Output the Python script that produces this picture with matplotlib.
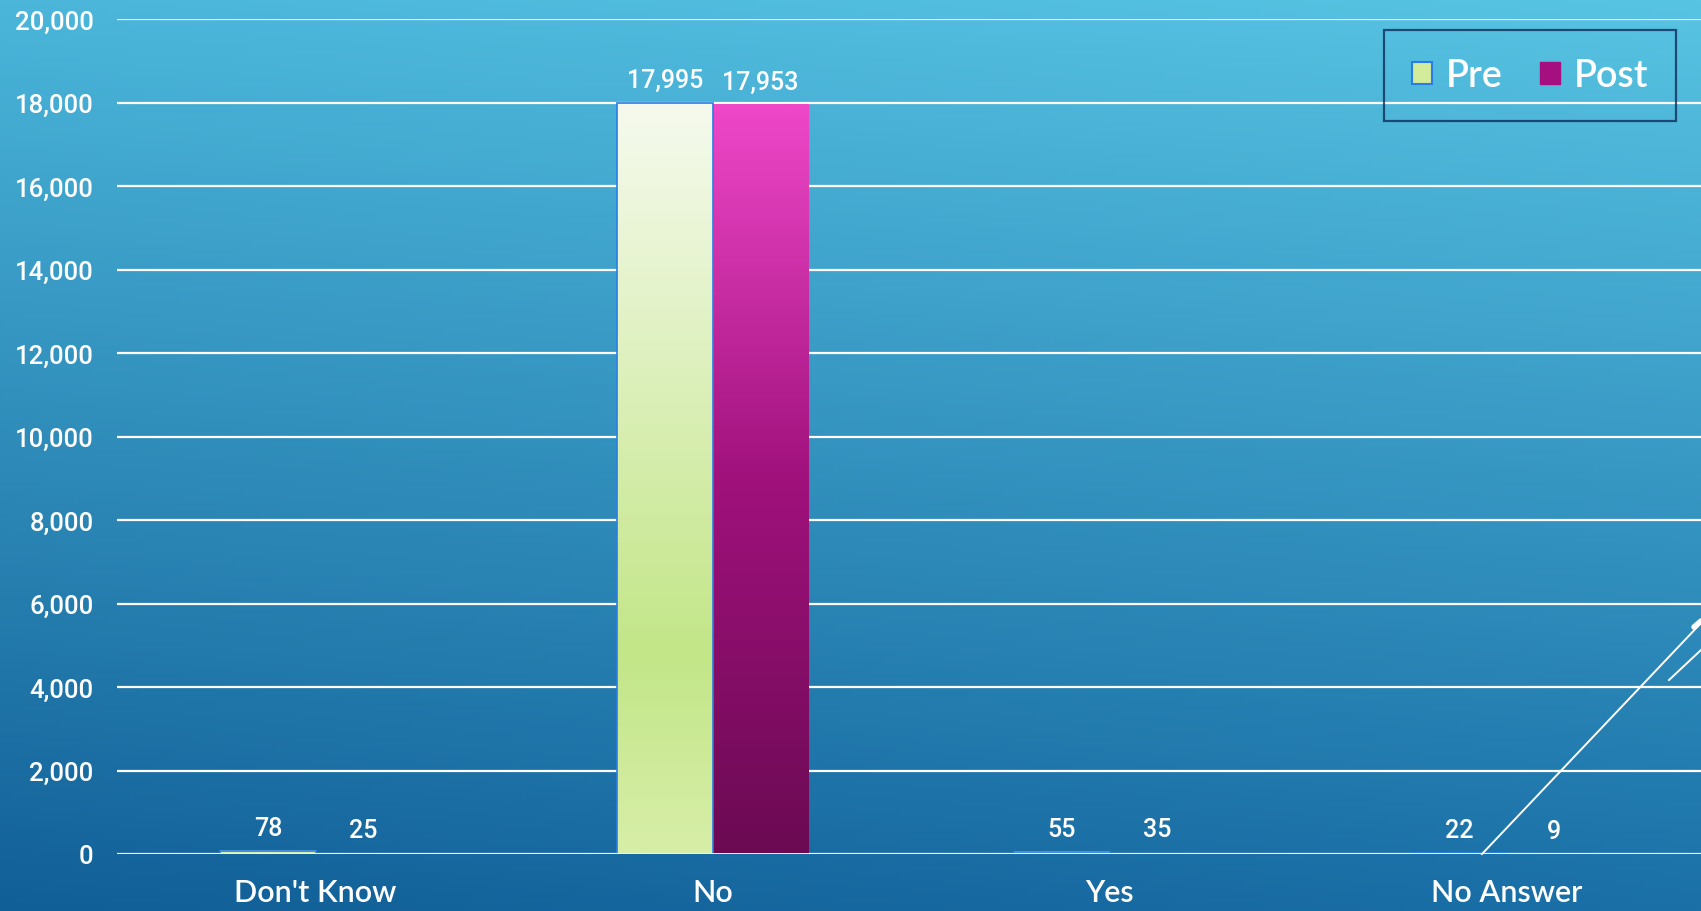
import numpy as np
import matplotlib.pyplot as plt
from matplotlib.colors import LinearSegmentedColormap, to_rgb
from matplotlib.patches import Patch
from matplotlib.lines import Line2D

# data
categories = ["Don't Know", "No", "Yes", "No Answer"]
pre_values = [78, 17995, 55, 22]
post_values = [25, 17953, 35, 9]
series_names = ["Pre", "Post"]
y_ticks = [0, 2000, 4000, 6000, 8000, 10000, 12000, 14000, 16000, 18000, 20000]

W, H = 1701, 912
fig = plt.figure(figsize=(W / 100, H / 100), dpi=100)

# background gradient (dark blue bottom-left -> light cyan top-right)
bg = fig.add_axes([0, 0, 1, 1], zorder=0)
bg.axis("off")
tl = np.array(to_rgb("#4bb6da"))
tr = np.array(to_rgb("#58c4e3"))
bl = np.array(to_rgb("#115f97"))
br = np.array(to_rgb("#1a70a7"))
yy, xx = np.mgrid[0:1:200j, 0:1:300j]
img = (tl[None, None] * ((1 - xx) * (1 - yy))[..., None] + tr[None, None] * (xx * (1 - yy))[..., None]
       + bl[None, None] * ((1 - xx) * yy)[..., None] + br[None, None] * (xx * yy)[..., None])
bg.imshow(img, aspect="auto", extent=[0, 1, 0, 1], origin="upper")
bg.set_xlim(0, 1)
bg.set_ylim(0, 1)

ax = fig.add_axes([117 / W, 57 / H, 1588 / W, 835 / H], zorder=1)
ax.patch.set_alpha(0)
for s in ax.spines.values():
    s.set_visible(False)

ax.set_xlim(-0.5, 3.5)
ax.set_ylim(0, 20000)
ax.set_yticks(y_ticks)
ax.set_yticklabels([f"{v:,}" for v in y_ticks], family="Roboto", fontweight="medium",
                   fontsize=18.5, color="white")
ax.tick_params(axis="y", length=0, pad=17)
ax.tick_params(axis="x", length=0, pad=17)
ax.grid(axis="y", color="white", linewidth=1.6, zorder=0)
ax.set_axisbelow(True)

x = np.arange(len(categories))
ax.set_xticks(x)
ax.set_xticklabels(categories, family="Lato", fontweight="semibold", fontsize=22, color="white")

pre_cmap = LinearSegmentedColormap.from_list("pre", [(0, "#d7eea8"), (0.27, "#c3e688"), (1, "#f6faee")])
post_cmap = LinearSegmentedColormap.from_list("post", ["#6b0a53", "#a0117c", "#ef48c9"])
grad = np.linspace(0, 1, 256).reshape(-1, 1)
bw = 0.24
ymax = max(max(pre_values), max(post_values))

for vals, off, cmap, edge in [(pre_values, -0.5, pre_cmap, "#2a7de8"), (post_values, 0.5, post_cmap, None)]:
    for xi, v in zip(x, vals):
        x0 = xi + off * bw - bw / 2
        x1 = x0 + bw
        g = grad * (v / ymax)
        ax.imshow(g, cmap=cmap, vmin=0, vmax=1, aspect="auto", origin="lower",
                  extent=[x0, x1, 0, v], zorder=2, interpolation="bilinear",
                  alpha=1.0 if v > 100 or edge else 0.0)
        if edge:
            ax.add_patch(plt.Rectangle((x0, 0), bw, v, fill=False, edgecolor=edge, linewidth=1.2, zorder=3))
        ax.annotate(f"{v:,}", (xi + off * bw, v), xytext=(0, 8), textcoords="offset points",
                    ha="center", va="bottom", family="Roboto", fontweight="medium",
                    fontsize=18, color="white", zorder=4)

ax.set_xlim(-0.5, 3.5)
ax.set_ylim(0, 20000)
ax.axhline(0, color="white", linewidth=2, zorder=3)

handles = [Patch(facecolor="#d3ec9c", edgecolor="#2a7de8", linewidth=1.5),
           Patch(facecolor="#a50f7f", edgecolor="#a50f7f")]
leg = fig.legend(handles, series_names, loc="upper right", bbox_to_anchor=(1676 / W, 1 - 31 / H),
                 ncol=2, frameon=True, fancybox=False,
                 prop={"family": "Lato", "weight": "semibold", "size": 27},
                 labelcolor="white", handlelength=0.55, handleheight=0.55, handletextpad=0.35,
                 columnspacing=1.0, borderpad=0.75, borderaxespad=0)
leg.get_frame().set_facecolor("none")
leg.get_frame().set_edgecolor("#0f2d58")
leg.get_frame().set_linewidth(1.6)
leg.set_zorder(5)

# stray connector lines at lower right
fig.add_artist(Line2D([1482 / W, 1701 / W], [1 - 855 / H, 1 - 624 / H], color="white", linewidth=1.4))
fig.add_artist(Line2D([1669 / W, 1701 / W], [1 - 681 / H, 1 - 651 / H], color="white", linewidth=1.4))
fig.add_artist(Line2D([1694 / W, 1701 / W], [1 - 628 / H, 1 - 622 / H], color="white", linewidth=4,
                      solid_capstyle="round"))

fig.savefig("out.png", dpi=100)
